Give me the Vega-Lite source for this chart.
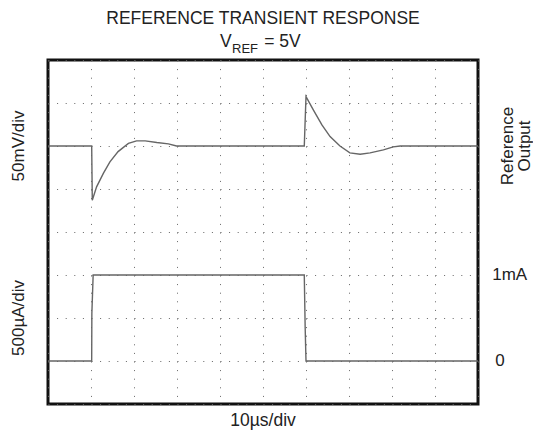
{
  "$schema": "https://vega.github.io/schema/vega-lite/v6.json",
  "width": 430,
  "height": 344,
  "autosize": "none",
  "padding": {"left": 48, "top": 60, "right": 55, "bottom": 28},
  "background": "white",
  "config": {
    "view": {"stroke": "#111", "strokeWidth": 3},
    "text": {"font": "Liberation Sans", "color": "#222"}
  },
  "datasets": {
    "traces": [
      {"series": "output", "i": 0, "x": 0, "y": 6},
      {"series": "output", "i": 1, "x": 1.016, "y": 6},
      {"series": "output", "i": 2, "x": 1.03, "y": 4.74},
      {"series": "output", "i": 3, "x": 1.13, "y": 5.05},
      {"series": "output", "i": 4, "x": 1.29, "y": 5.37},
      {"series": "output", "i": 5, "x": 1.44, "y": 5.63},
      {"series": "output", "i": 6, "x": 1.63, "y": 5.87},
      {"series": "output", "i": 7, "x": 1.87, "y": 6.06},
      {"series": "output", "i": 8, "x": 2.06, "y": 6.12},
      {"series": "output", "i": 9, "x": 2.26, "y": 6.12},
      {"series": "output", "i": 10, "x": 2.53, "y": 6.08},
      {"series": "output", "i": 11, "x": 2.8, "y": 6.05},
      {"series": "output", "i": 12, "x": 2.99, "y": 6.0},
      {"series": "output", "i": 13, "x": 3.23, "y": 6.0},
      {"series": "output", "i": 14, "x": 5.96, "y": 6.0},
      {"series": "output", "i": 15, "x": 6.0, "y": 7.15},
      {"series": "output", "i": 16, "x": 6.17, "y": 6.84},
      {"series": "output", "i": 17, "x": 6.37, "y": 6.49},
      {"series": "output", "i": 18, "x": 6.56, "y": 6.22},
      {"series": "output", "i": 19, "x": 6.79, "y": 6.0},
      {"series": "output", "i": 20, "x": 7.02, "y": 5.84},
      {"series": "output", "i": 21, "x": 7.26, "y": 5.81},
      {"series": "output", "i": 22, "x": 7.49, "y": 5.84},
      {"series": "output", "i": 23, "x": 7.8, "y": 5.91},
      {"series": "output", "i": 24, "x": 8.03, "y": 5.98},
      {"series": "output", "i": 25, "x": 8.19, "y": 6.0},
      {"series": "output", "i": 26, "x": 10, "y": 6.0},
      {"series": "load", "i": 0, "x": 0, "y": 1},
      {"series": "load", "i": 1, "x": 1.016, "y": 1},
      {"series": "load", "i": 2, "x": 1.02, "y": 2.1},
      {"series": "load", "i": 3, "x": 1.05, "y": 3},
      {"series": "load", "i": 4, "x": 5.96, "y": 3},
      {"series": "load", "i": 5, "x": 5.98, "y": 1.8},
      {"series": "load", "i": 6, "x": 6.0, "y": 1},
      {"series": "load", "i": 7, "x": 10, "y": 1}
    ]
  },
  "layer": [
    {
      "mark": {"type": "rule", "color": "#666", "strokeWidth": 1, "strokeDash": [1, 1], "clip": true},
      "encoding": {
        "x": {"datum": 5, "type": "quantitative", "scale": {"domain": [0, 10], "nice": false, "zero": false},
          "axis": {"values": [0,1,2,3,4,5,6,7,8,9,10], "grid": true, "gridDash": [1, 7.6], "gridColor": "#666", "gridOpacity": 1, "gridWidth": 1, "labels": false, "ticks": false, "domain": false, "title": null}}
      }
    },
    {
      "mark": {"type": "rule", "color": "#666", "strokeWidth": 1, "strokeDash": [1, 1], "clip": true},
      "encoding": {
        "y": {"datum": 4, "type": "quantitative", "scale": {"domain": [0, 8], "nice": false, "zero": false},
          "axis": {"values": [0,1,2,3,4,5,6,7,8], "grid": true, "gridDash": [1, 7.6], "gridColor": "#666", "gridOpacity": 1, "gridWidth": 1, "labels": false, "ticks": false, "domain": false, "title": null}}
      }
    },
    {
      "mark": {"type": "rule", "color": "#555", "strokeWidth": 5, "strokeDash": [1, 7.6], "clip": true},
      "encoding": {"x": {"datum": 5, "type": "quantitative"}}
    },
    {
      "mark": {"type": "rule", "color": "#555", "strokeWidth": 5, "strokeDash": [1, 7.6], "clip": true},
      "encoding": {"y": {"datum": 4, "type": "quantitative"}}
    },
    {
      "mark": {"type": "rule", "color": "#444", "strokeWidth": 8, "strokeDash": [1, 7.6], "clip": true},
      "encoding": {"x": {"datum": 0, "type": "quantitative"}}
    },
    {
      "mark": {"type": "rule", "color": "#444", "strokeWidth": 8, "strokeDash": [1, 7.6], "clip": true},
      "encoding": {"x": {"datum": 10, "type": "quantitative"}}
    },
    {
      "mark": {"type": "rule", "color": "#444", "strokeWidth": 8, "strokeDash": [1, 7.6], "clip": true},
      "encoding": {"y": {"datum": 0, "type": "quantitative"}}
    },
    {
      "mark": {"type": "rule", "color": "#444", "strokeWidth": 8, "strokeDash": [1, 7.6], "clip": true},
      "encoding": {"y": {"datum": 8, "type": "quantitative"}}
    },
    {
      "data": {"name": "traces"},
      "mark": {"type": "line", "strokeWidth": 1.4, "clip": true},
      "encoding": {
        "x": {"field": "x", "type": "quantitative"},
        "y": {"field": "y", "type": "quantitative"},
        "detail": {"field": "series", "type": "nominal"},
        "order": {"field": "i", "type": "quantitative"},
        "color": {"value": "#666666"}
      }
    },
    {
      "data": {"values": [{"label": "REFERENCE TRANSIENT RESPONSE", "x": 5, "y": 8.83}]},
      "mark": {"type": "text", "fontSize": 17.5, "align": "center", "baseline": "alphabetic"},
      "encoding": {"x": {"field": "x", "type": "quantitative"}, "y": {"field": "y", "type": "quantitative"}, "text": {"field": "label"}}
    },
    {
      "data": {"values": [{"label": "V", "x": 4.0, "y": 8.3}]},
      "mark": {"type": "text", "fontSize": 17.5, "align": "left", "baseline": "alphabetic"},
      "encoding": {"x": {"field": "x", "type": "quantitative"}, "y": {"field": "y", "type": "quantitative"}, "text": {"field": "label"}}
    },
    {
      "data": {"values": [{"label": "REF", "x": 4.28, "y": 8.16}]},
      "mark": {"type": "text", "fontSize": 13, "align": "left", "baseline": "alphabetic"},
      "encoding": {"x": {"field": "x", "type": "quantitative"}, "y": {"field": "y", "type": "quantitative"}, "text": {"field": "label"}}
    },
    {
      "data": {"values": [{"label": "= 5V", "x": 5.03, "y": 8.3}]},
      "mark": {"type": "text", "fontSize": 17.5, "align": "left", "baseline": "alphabetic"},
      "encoding": {"x": {"field": "x", "type": "quantitative"}, "y": {"field": "y", "type": "quantitative"}, "text": {"field": "label"}}
    },
    {
      "data": {"values": [{"label": "50mV/div", "x": -0.67, "y": 6}, {"label": "500µA/div", "x": -0.67, "y": 2}]},
      "mark": {"type": "text", "fontSize": 17, "align": "center", "baseline": "middle", "angle": 270},
      "encoding": {"x": {"field": "x", "type": "quantitative"}, "y": {"field": "y", "type": "quantitative"}, "text": {"field": "label"}}
    },
    {
      "data": {"values": [{"label": "Reference\nOutput", "x": 10.7, "y": 6}]},
      "mark": {"type": "text", "fontSize": 17, "align": "center", "baseline": "middle", "angle": 270, "lineBreak": "\n", "lineHeight": 17},
      "encoding": {"x": {"field": "x", "type": "quantitative"}, "y": {"field": "y", "type": "quantitative"}, "text": {"field": "label"}}
    },
    {
      "data": {"values": [{"label": "1mA", "x": 10.33, "y": 3}, {"label": "0", "x": 10.4, "y": 1}]},
      "mark": {"type": "text", "fontSize": 17, "align": "left", "baseline": "middle"},
      "encoding": {"x": {"field": "x", "type": "quantitative"}, "y": {"field": "y", "type": "quantitative"}, "text": {"field": "label"}}
    },
    {
      "data": {"values": [{"label": "10µs/div", "x": 5, "y": -0.52}]},
      "mark": {"type": "text", "fontSize": 17.5, "align": "center", "baseline": "alphabetic"},
      "encoding": {"x": {"field": "x", "type": "quantitative"}, "y": {"field": "y", "type": "quantitative"}, "text": {"field": "label"}}
    }
  ]
}
